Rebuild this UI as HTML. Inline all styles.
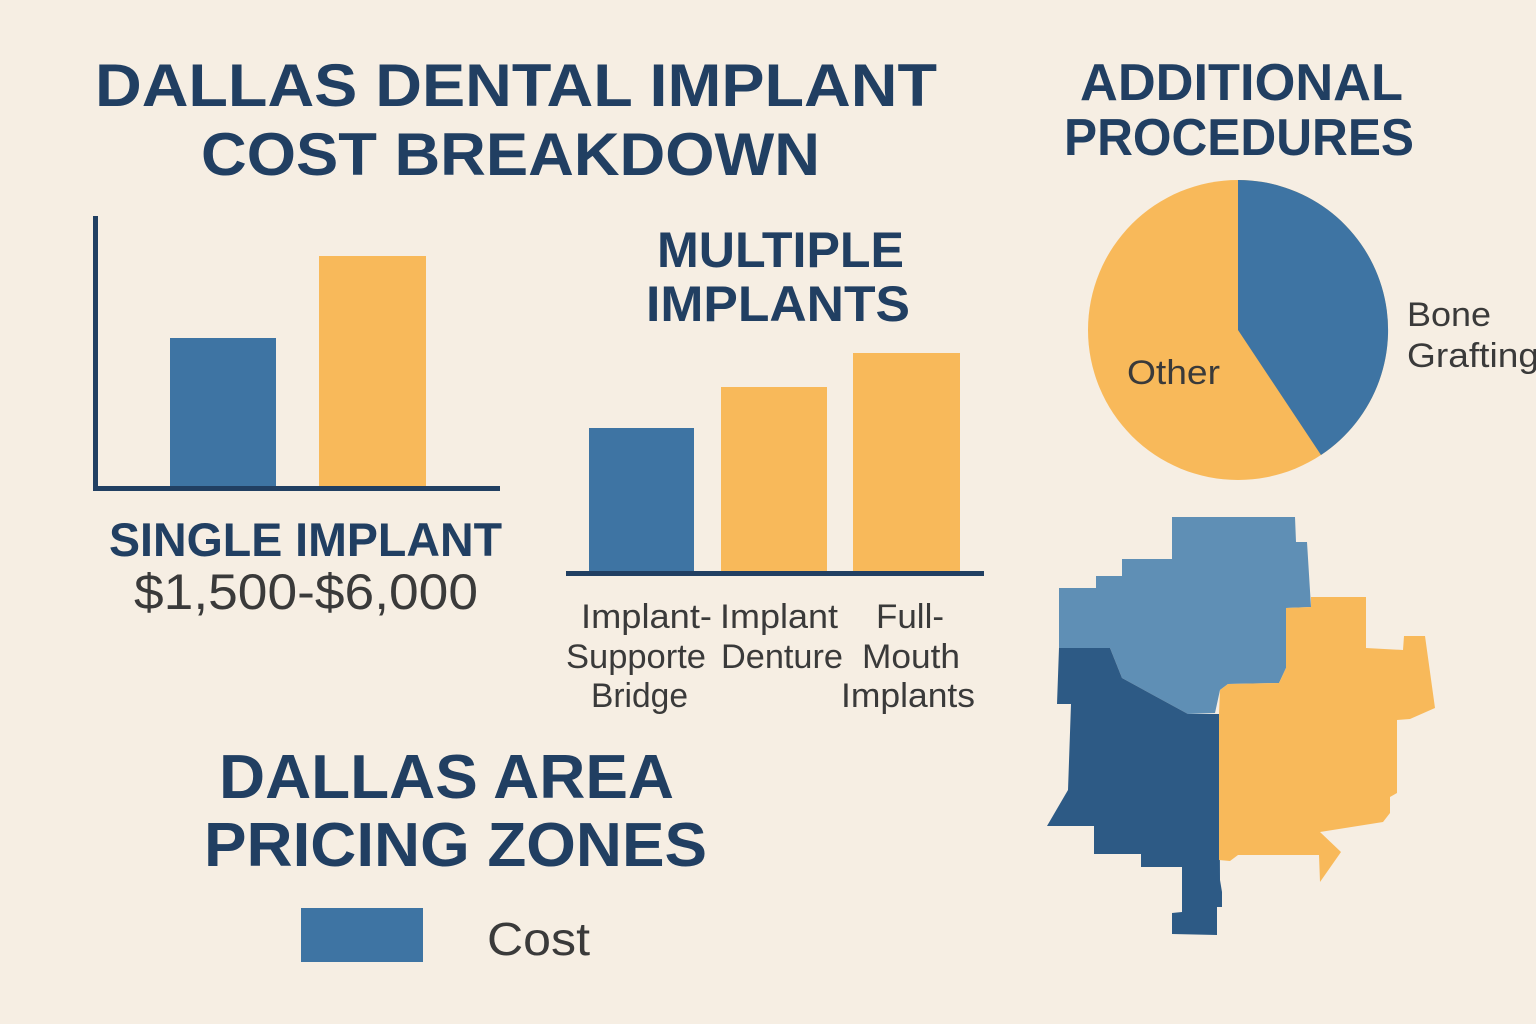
<!DOCTYPE html>
<html><head><meta charset="utf-8"><style>
html,body{margin:0;padding:0;background:#f6eee3;}
svg{display:block}
.t{font-family:"Liberation Sans",sans-serif;font-weight:bold;fill:#213f62}
.l{font-family:"Liberation Sans",sans-serif;fill:#3a3a3a}
</style></head><body>
<svg width="1536" height="1024" viewBox="0 0 1536 1024" xmlns="http://www.w3.org/2000/svg">
<rect width="1536" height="1024" fill="#f6eee3"/>
<text class="t" x="95" y="106" font-size="60" textLength="842" lengthAdjust="spacingAndGlyphs">DALLAS DENTAL IMPLANT</text>
<text class="t" x="201" y="175" font-size="60" textLength="619" lengthAdjust="spacingAndGlyphs">COST BREAKDOWN</text>
<text class="t" x="1080" y="100" font-size="52" textLength="323" lengthAdjust="spacingAndGlyphs">ADDITIONAL</text>
<text class="t" x="1064" y="155" font-size="52" textLength="350" lengthAdjust="spacingAndGlyphs">PROCEDURES</text>
<text class="t" x="657" y="267" font-size="50" textLength="247" lengthAdjust="spacingAndGlyphs">MULTIPLE</text>
<text class="t" x="646" y="321" font-size="50" textLength="264" lengthAdjust="spacingAndGlyphs">IMPLANTS</text>
<!-- single implant chart -->
<rect x="170" y="338" width="106" height="148" fill="#3e74a3"/>
<rect x="319" y="256" width="107" height="230" fill="#f8b95a"/>
<rect x="93" y="216" width="5" height="275" fill="#213f62"/>
<rect x="93" y="486" width="407" height="5" fill="#213f62"/>
<text class="t" x="109" y="556" font-size="47" textLength="393" lengthAdjust="spacingAndGlyphs">SINGLE IMPLANT</text>
<text class="l" x="134" y="609" font-size="50" textLength="344" lengthAdjust="spacingAndGlyphs">$1,500-$6,000</text>
<!-- multiple chart -->
<rect x="589" y="428" width="105" height="144" fill="#3e74a3"/>
<rect x="721" y="387" width="106" height="185" fill="#f8b95a"/>
<rect x="853" y="353" width="107" height="219" fill="#f8b95a"/>
<rect x="566" y="571" width="418" height="5" fill="#213f62"/>
<g class="l" font-size="34">
<text x="581" y="628" textLength="131" lengthAdjust="spacingAndGlyphs">Implant-</text>
<text x="566" y="668" textLength="140" lengthAdjust="spacingAndGlyphs">Supporte</text>
<text x="591" y="707" textLength="97" lengthAdjust="spacingAndGlyphs">Bridge</text>
<text x="720" y="628" textLength="118" lengthAdjust="spacingAndGlyphs">Implant</text>
<text x="721" y="668" textLength="122" lengthAdjust="spacingAndGlyphs">Denture</text>
<text x="876" y="628" textLength="68" lengthAdjust="spacingAndGlyphs">Full-</text>
<text x="862" y="668" textLength="98" lengthAdjust="spacingAndGlyphs">Mouth</text>
<text x="841" y="707" textLength="134" lengthAdjust="spacingAndGlyphs">Implants</text>
</g>
<text class="t" x="219" y="798" font-size="62" textLength="455" lengthAdjust="spacingAndGlyphs">DALLAS AREA</text>
<text class="t" x="204" y="866" font-size="62" textLength="503" lengthAdjust="spacingAndGlyphs">PRICING ZONES</text>
<rect x="301" y="908" width="122" height="54" fill="#3e74a3"/>
<text class="l" x="487" y="955" font-size="46" textLength="103" lengthAdjust="spacingAndGlyphs">Cost</text>
<!-- pie -->
<circle cx="1238" cy="330" r="150" fill="#f8b95a"/>
<path d="M1238,330 L1238,180 A150,150 0 0 1 1321,455 Z" fill="#3e74a3"/>
<text class="l" x="1127" y="384" font-size="34" textLength="93" lengthAdjust="spacingAndGlyphs">Other</text>
<text class="l" x="1407" y="326" font-size="34" textLength="84" lengthAdjust="spacingAndGlyphs">Bone</text>
<text class="l" x="1407" y="367" font-size="34" textLength="132" lengthAdjust="spacingAndGlyphs">Grafting</text>
<!-- map -->
<polygon fill="#5f8fb5" points="1172,517 1295,517 1296,542 1307,542 1311,607 1286,608 1286,668 1279,683 1228,684 1220,690 1215,713 1188,714 1122,678 1110,648 1059,648 1059,588 1096,588 1096,576 1122,576 1122,559 1172,559"/>
<polygon fill="#2d5a85" points="1059,648 1110,648 1122,678 1188,714 1219,714 1220,880 1222,892 1222,907 1217,907 1217,935 1172,934 1172,913 1182,912 1182,867 1141,867 1141,854 1094,854 1094,826 1047,826 1068,790 1071,704 1057,704"/>
<polygon fill="#f8b95a" points="1219,714 1220,690 1228,684 1279,683 1286,668 1286,608 1311,607 1311,597 1366,597 1366,648 1403,650 1404,636 1425,636 1435,708 1410,719 1397,720 1397,793 1390,797 1390,813 1383,822 1320,832 1341,852 1320,882 1319,855 1238,855 1230,861 1219,860"/>
</svg>
</body></html>
